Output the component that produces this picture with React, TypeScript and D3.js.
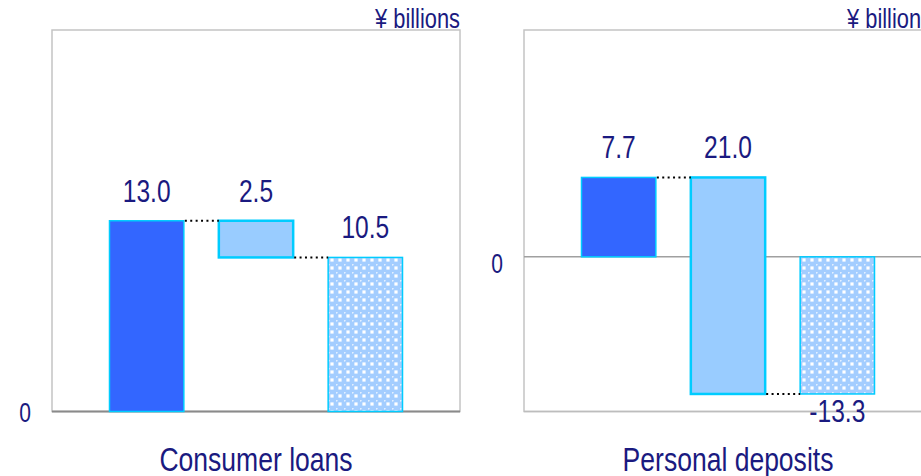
import React from "react";
import * as d3 from "d3";

const steps = ["start", "change", "end"];
const loansValues = [13.0, 2.5, 10.5];
const depositValues = [7.7, 21.0, -13.3];
const loansLabels = ["13.0", "2.5", "10.5"];
const depositLabels = ["7.7", "21.0", "-13.3"];
const titles = ["Consumer loans", "Personal deposits"];
const unitLabel = "¥ billions";
const loansDomain = [0, 26];
const depositDomain = [-15, 22];

const W = 921;
const H = 476;
const FONT = "'Liberation Sans', Arial, sans-serif";
const NAVY = "#1a1a80";
const CYAN = "#00ccff";
const NARROW = 0.78;

type Panel = {
  x0: number;
  values: number[];
  labels: string[];
  domain: number[];
  title: string;
  zeroDy: number;
};

const panels: Panel[] = [
  { x0: 52, values: loansValues, labels: loansLabels, domain: loansDomain, title: titles[0], zeroDy: 10 },
  { x0: 524, values: depositValues, labels: depositLabels, domain: depositDomain, title: titles[1], zeroDy: 16 },
];

const PW = 408;
const TOP = 30;
const BOTTOM = 411.5;

function NText({
  x,
  y,
  anchor,
  size,
  children,
}: {
  x: number;
  y: number;
  anchor: "start" | "middle" | "end";
  size: number;
  children: React.ReactNode;
}) {
  return (
    <text
      transform={`translate(${x},${y}) scale(${NARROW},1)`}
      textAnchor={anchor}
      fontSize={size}
      fill={NAVY}
    >
      {children}
    </text>
  );
}

function PanelView({ p }: { p: Panel }) {
  const y = d3.scaleLinear().domain(p.domain).range([BOTTOM, TOP]);
  const x = d3
    .scaleBand<string>()
    .domain(steps)
    .range([p.x0 + 40, p.x0 + 368])
    .paddingInner(0.32)
    .paddingOuter(0.16);
  const bw = x.bandwidth();
  const v = p.values;
  const after = v[0] - v[1];
  const bars = [
    { key: steps[0], a: 0, b: v[0], fill: "#3366ff", sw: 1.5 },
    { key: steps[1], a: v[0], b: after, fill: "#99ccff", sw: 2.5 },
    { key: steps[2], a: 0, b: v[2], fill: `url(#bubbles)`, sw: 1.5 },
  ];
  const y0 = y(0);
  const bottomIsZero = Math.abs(y0 - BOTTOM) < 1;
  return (
    <g>
      <rect x={p.x0} y={TOP} width={PW} height={BOTTOM - TOP} fill="none" stroke="#c4c4c4" strokeWidth={1.5} />
      <line
        x1={p.x0}
        x2={p.x0 + PW}
        y1={BOTTOM}
        y2={BOTTOM}
        stroke={bottomIsZero ? "#8a8a8a" : "#bdbdbd"}
        strokeWidth={bottomIsZero ? 2 : 1.5}
      />
      {!bottomIsZero && (
        <line x1={p.x0} x2={p.x0 + PW} y1={y0} y2={y0} stroke="#a0a0a0" strokeWidth={1.5} />
      )}
      {bars.map((b) => {
        const top = y(Math.max(b.a, b.b));
        const bot = y(Math.min(b.a, b.b));
        return (
          <rect
            key={b.key}
            x={x(b.key)}
            y={top}
            width={bw}
            height={bot - top}
            fill={b.fill}
            stroke={CYAN}
            strokeWidth={b.sw}
          />
        );
      })}
      <line
        x1={(x(steps[0]) as number) + bw + 1}
        x2={x(steps[1])}
        y1={y(v[0])}
        y2={y(v[0])}
        stroke="#000"
        strokeWidth={2}
        strokeDasharray="2,3.4"
      />
      <line
        x1={(x(steps[1]) as number) + bw + 1}
        x2={x(steps[2])}
        y1={y(after)}
        y2={y(after)}
        stroke="#000"
        strokeWidth={2}
        strokeDasharray="2,3.4"
      />
      {bars.map((b, i) => {
        const hi = Math.max(b.a, b.b);
        const lo = Math.min(b.a, b.b);
        const neg = i === 2 && v[2] < 0;
        const ty = neg ? y(lo) + 28 : y(hi) - 19;
        return (
          <NText key={"l" + b.key} x={(x(b.key) as number) + bw / 2} y={ty} anchor="middle" size={31.5}>
            {p.labels[i]}
          </NText>
        );
      })}
      <NText x={p.x0 - 27} y={y0 + p.zeroDy} anchor="middle" size={27}>
        0
      </NText>
      <NText x={p.x0 + PW} y={28} anchor="end" size={28}>
        {unitLabel}
      </NText>
      <NText x={p.x0 + PW / 2} y={471} anchor="middle" size={34}>
        {p.title}
      </NText>
    </g>
  );
}

export default function App() {
  return (
    <svg
      width={W}
      height={H}
      style={{ position: "absolute", left: 0, top: 0, display: "block", background: "#fff" }}
      fontFamily={FONT}
    >
      <defs>
        <pattern id="bubbles" width={8} height={8} patternUnits="userSpaceOnUse">
          <rect width={8} height={8} fill="#a3cdff" />
          <rect x={2.4} y={2.4} width={3.2} height={3.2} fill="#ffffff" />
          <circle cx={0.6} cy={0.6} r={1.1} fill="#e2efff" />
        </pattern>
      </defs>
      {panels.map((p, i) => (
        <PanelView key={i} p={p} />
      ))}
    </svg>
  );
}
